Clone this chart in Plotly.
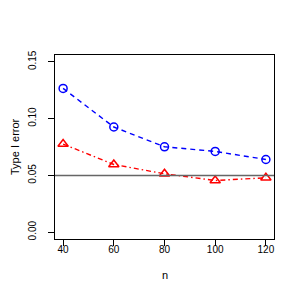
import plotly.graph_objects as go

n = [40, 60, 80, 100, 120]
blue_vals = [0.1266, 0.0926, 0.0752, 0.0711, 0.0640]
red_vals = [0.0776, 0.0596, 0.0514, 0.0455, 0.0479]
nominal = 0.05
x_ticks = [40, 60, 80, 100, 120]
y_ticks = [0.00, 0.05, 0.10, 0.15]
y_ticklabels = ["0.00", "0.05", "0.10", "0.15"]

fig = go.Figure()
fig.add_trace(go.Scatter(
    x=n, y=blue_vals, mode="lines+markers",
    line=dict(color="#0000FF", width=1.4, dash="5px,4px"),
    marker=dict(symbol="circle-open", size=8, color="#0000FF", line=dict(width=1.5)),
    showlegend=False))
fig.add_trace(go.Scatter(
    x=n, y=red_vals, mode="lines+markers",
    line=dict(color="#FF0000", width=1.4, dash="5px,3px,1.5px,3px"),
    marker=dict(symbol="triangle-up-open", size=9, color="#FF0000", line=dict(width=1.5)),
    showlegend=False))
fig.add_shape(type="line", xref="paper", x0=0, x1=1, yref="y", y0=nominal, y1=nominal,
              line=dict(color="#666666", width=1.5))

fam = "Liberation Sans, Arial, sans-serif"
font = dict(family=fam, size=10, color="black")
L, R, T, B = 47, 25, 47, 60
H = 291
ph = H - T - B
fig.add_annotation(text="Type I error", textangle=-90, xref="paper", yref="paper",
                   x=-(L - 7) / (291 - L - R), y=0.5, xanchor="center", yanchor="middle",
                   showarrow=False, font=dict(family=fam, size=11, color="black"))
fig.add_annotation(text="n", xref="paper", yref="paper",
                   x=0.5, y=-(267 - (H - B)) / ph, xanchor="center", yanchor="middle",
                   showarrow=False, font=dict(family=fam, size=11, color="black"))
fig.update_layout(
    width=291, height=291,
    margin=dict(l=L, r=R, t=T, b=B),
    paper_bgcolor="white", plot_bgcolor="white",
    font=font,
    xaxis=dict(range=[36.8, 123.2], tickvals=x_ticks, ticks="outside", ticklen=6,
               tickcolor="black", showline=True, linecolor="black", linewidth=1, mirror=True,
               showgrid=False, zeroline=False, tickfont=font, automargin=False,
               ticklabelstandoff=-5),
    yaxis=dict(range=[-0.006, 0.156], tickvals=y_ticks, ticktext=y_ticklabels, tickangle=-90,
               ticks="outside", ticklen=6, tickcolor="black", showline=True, linecolor="black",
               linewidth=1, mirror=True, showgrid=False, zeroline=False, tickfont=font,
               automargin=False, ticklabelstandoff=8),
)
fig.write_html("out.html")
